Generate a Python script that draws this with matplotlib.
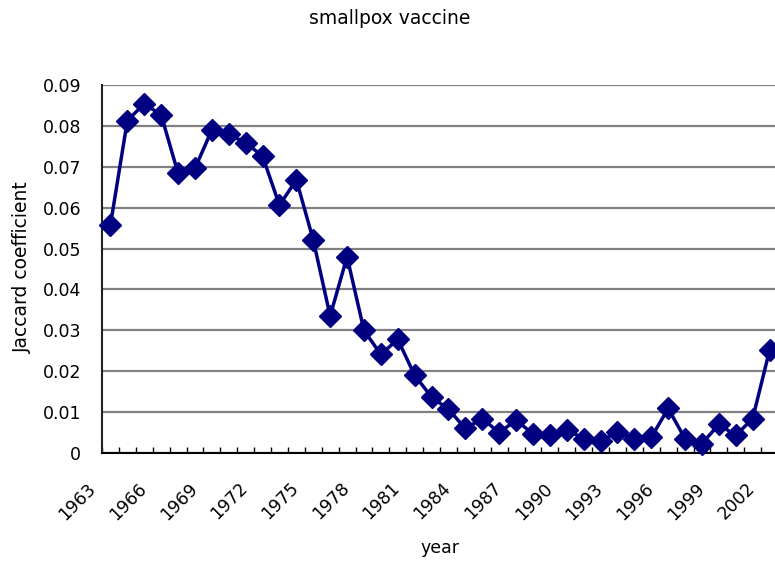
import matplotlib.pyplot as plt
import matplotlib.transforms as mtransforms
import numpy as np

plt.rcParams['font.family'] = ['DejaVu Sans']

years = list(range(1963, 2003))
jaccard = [0.0558, 0.0813, 0.0854, 0.0827, 0.0684, 0.0696, 0.0790, 0.0779,
           0.0759, 0.0726, 0.0606, 0.0668, 0.0521, 0.0335, 0.0480, 0.0300,
           0.0241, 0.0278, 0.0190, 0.0137, 0.0107, 0.0060, 0.0084, 0.0050,
           0.0080, 0.0047, 0.0043, 0.0057, 0.0035, 0.0029, 0.0051, 0.0035,
           0.0038, 0.0109, 0.0035, 0.0023, 0.0070, 0.0043, 0.0084, 0.0251]
yticks = [0, 0.01, 0.02, 0.03, 0.04, 0.05, 0.06, 0.07, 0.08, 0.09]
ytick_labels = ['0', '0.01', '0.02', '0.03', '0.04', '0.05', '0.06', '0.07', '0.08', '0.09']

W, H = 775, 562
fig = plt.figure(figsize=(W / 100, H / 100), dpi=100)
# plot area runs past the right edge of the picture, as in the reference
ax = fig.add_axes([102 / W, 1 - 453 / H, 676 / W, (453 - 85) / H])

x = np.arange(len(years))
ax.plot(x, jaccard, color='#000080', lw=2.5, marker='D', markersize=11,
        markeredgewidth=1, zorder=3, clip_on=False)

ax.set_xlim(-0.5, len(years) - 0.5)
ax.set_ylim(0, 0.09)
ax.set_yticks(yticks)
ax.set_yticklabels(ytick_labels, fontsize=12.5)
ax.tick_params(axis='y', length=0, pad=15)
ax.yaxis.grid(True, color='#808080', lw=1.6)
ax.set_axisbelow(True)

# category boundaries as minor ticks, labels every 3 years
ax.set_xticks(np.arange(-0.5, len(years), 1.0), minor=True)
ax.set_xticks(x[::3])
ax.set_xticklabels([str(y) for y in years[::3]], fontsize=12.5, rotation=45,
                   ha='right', va='top')
ax.tick_params(axis='x', which='minor', direction='in', length=4, width=1)
ax.tick_params(axis='x', which='major', length=0, pad=19)
offset = mtransforms.ScaledTranslation(-11 / 100, 0, fig.dpi_scale_trans)
for lab in ax.get_xticklabels():
    lab.set_transform(lab.get_transform() + offset)

for s in ['top', 'right']:
    ax.spines[s].set_visible(False)
ax.spines['left'].set_linewidth(1.5)
ax.spines['bottom'].set_linewidth(1.5)
ax.spines['left'].set_color('#222222')

fig.text(390 / W, 1 - 18 / H, 'smallpox vaccine', ha='center', va='center', fontsize=13.5)
fig.text(440 / W, 1 - 548 / H, 'year', ha='center', va='center', fontsize=12.5)
fig.text(22 / W, 1 - 267 / H, 'Jaccard coefficient', ha='center', va='center',
         rotation=90, fontsize=13.5)

fig.savefig('out.png', dpi=100)
